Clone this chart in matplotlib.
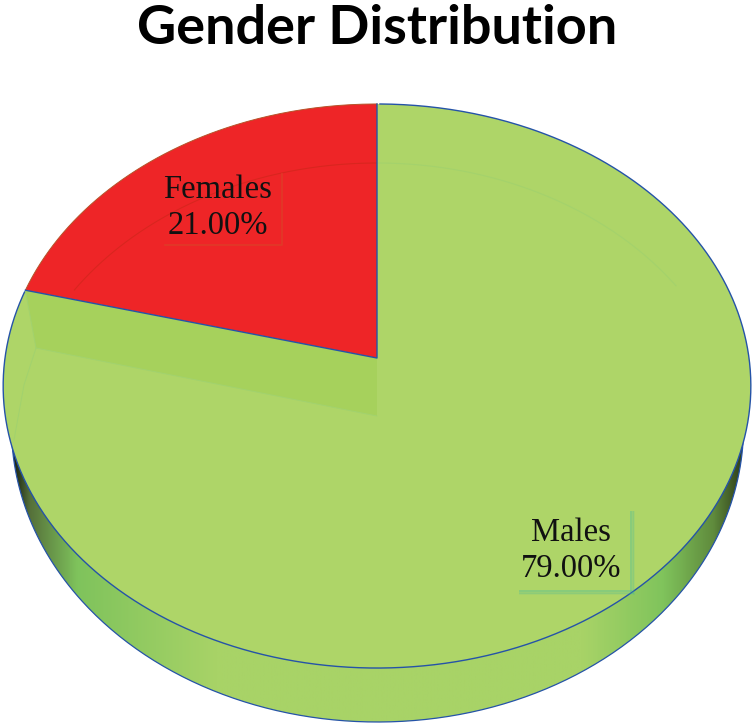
# 3D style pie of the gender distribution

import matplotlib
matplotlib.use("Agg")
import matplotlib.pyplot as plt
from matplotlib.colors import LinearSegmentedColormap
from matplotlib.patches import Polygon
import numpy as np

title = "Gender Distribution"
categories = ["Males", "Females"]
shares = [79.00, 21.00]
slice_colors = ["#aed568", "#ee2527"]


def project(theta, scale=1.0):
    # circle seen in perspective, theta is clockwise from the top
    u = scale * np.sin(theta)
    v = scale * np.cos(theta)
    d = 1 + 0.0993 * v
    return 377 + 372 * u / d, (358 - 243.7 * v) / d


def slice_polygon(start, end):
    theta = np.radians(np.linspace(start, end, 300))
    x, y = project(theta)
    return np.r_[377, x], np.r_[358, y]


fig = plt.figure(figsize=(7.55, 7.27), dpi=100)
ax = fig.add_axes([0, 0, 1, 1])
ax.set_xlim(0, 755)
ax.set_ylim(727, 0)
ax.axis("off")

# side of the disc, gradient clipped to the rim outline
t = np.radians(np.linspace(0, 360, 721))
top_x, top_y = project(t)
low = np.radians(np.linspace(-90, 90, 300))
rim_x = 377.5 + 366 * np.sin(low)
rim_y = 427 + 295 * np.cos(low)
side_cmap = LinearSegmentedColormap.from_list("side", [
    (0.00, "#10150a"), (0.025, "#55703a"), (0.09, "#7fc35c"), (0.28, "#a8d367"),
    (0.78, "#a8d367"), (0.89, "#80c45c"), (0.96, "#5f8a3c"), (1.00, "#2c3a18"),
], N=1024)
grad = ax.imshow(np.linspace(0, 1, 1000)[None, :], cmap=side_cmap, aspect="auto",
                 extent=[11, 744, 727, 380], zorder=1, interpolation="bilinear")
rim = Polygon(np.c_[rim_x, rim_y], closed=True, fc="none", ec="none", transform=ax.transData)
ax.add_patch(rim)
grad.set_clip_path(rim)
ax.set_xlim(0, 755)
ax.set_ylim(727, 0)
ax.plot(rim_x, rim_y, color="#2553a8", lw=0.9, zorder=2)

# slices, red one ends at the top going clockwise
ends = np.cumsum(shares) / 100 * 360
starts = ends - np.array(shares) / 100 * 360
for start, end, color in zip(starts, ends, slice_colors):
    x, y = slice_polygon(start, end)
    ax.fill(x, y, color=color, lw=0, zorder=3)

# darker bevel below the red slice
edge_x, edge_y = project(np.radians(starts[1]))
ax.fill([edge_x, 377, 377, 36], [edge_y, 358, 416, 348], color="#a6d15c", lw=0, zorder=4)
ax.plot([36, 377], [348, 416], color="#a2d26e", lw=0.7, zorder=4)
ax.plot([edge_x, 36], [edge_y, 348], color="#a2d26e", lw=0.7, zorder=4)

# faint inner bevel line
inner = np.radians(np.linspace(-56, 55, 400))
in_x = 377 + 365 * np.sin(inner)
in_y = 451 - 288 * np.cos(inner)
on_red = in_x < 377
ax.plot(in_x[on_red], in_y[on_red], color="#d9261f", lw=0.8, zorder=4)
ax.plot(in_x[~on_red], in_y[~on_red], color="#a4d26c", lw=0.8, zorder=4)
ax.plot([36, 24, 14], [348, 385, 440], color="#a2d26e", lw=0.7, zorder=4)

# outlines
green_part = (t > 0) & (t < np.radians(starts[1]))
ax.plot(top_x[green_part], top_y[green_part], color="#2553a8", lw=1.0, zorder=5)
red_part = t > np.radians(starts[1])
ax.plot(top_x[red_part], top_y[red_part], color="#b5542a", lw=0.7, zorder=5)
ax.plot([edge_x, 377, 377], [edge_y, 358, 104], color="#2553a8", lw=1.0, zorder=5)

# label boxes
for i, a in enumerate([0.35, 0.22, 0.1]):
    ax.plot([631 + 1.5 * i, 631 + 1.5 * i], [512, 591 + 1.5 * i], color="#3fb8a0", alpha=a, lw=1.4, zorder=5)
    ax.plot([520, 631 + 1.5 * i], [591 + 1.5 * i, 591 + 1.5 * i], color="#3fb8a0", alpha=a, lw=1.4, zorder=5)
ax.plot([282, 282, 165], [174, 245, 245], color="#e03a28", lw=1.2, zorder=5)

for name, share, cx, cy in zip(categories, shares, [571, 218], [551, 208]):
    ax.text(cx, cy, f"{name}\n{share:.2f}%", family="Liberation Serif", fontsize=23.5,
            ha="center", va="center", linespacing=1.22, color="#111111", zorder=6)

ax.text(377, 28, title, family="Lato", fontweight="bold", fontsize=39,
        ha="center", va="center", color="black")

plt.savefig("out.png", dpi=100)
plt.close()
